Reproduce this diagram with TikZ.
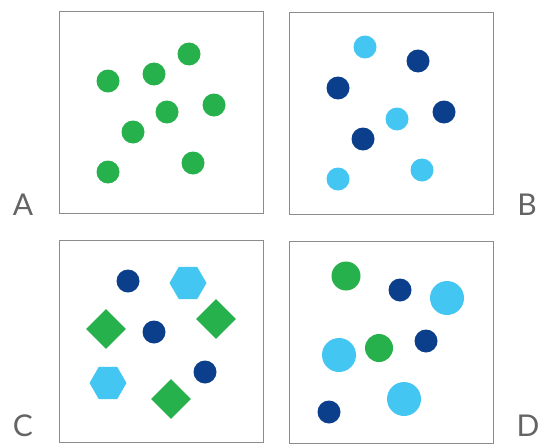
\documentclass[tikz,border=0pt]{standalone}
\usepackage{fontspec}
\newfontfamily\lblfont{Lato}
\usepackage{tikz}
\usetikzlibrary{shapes.geometric}
\definecolor{Dotgreen}{RGB}{38,177,76}
\definecolor{Dotlight}{RGB}{67,199,242}
\definecolor{Dotdark}{RGB}{11,63,139}
\definecolor{Framegray}{RGB}{140,140,140}
\definecolor{Lblgray}{RGB}{100,100,100}

\begin{document}
\begin{tikzpicture}[x=1pt, y=-1pt,
  panel/.style={rectangle, draw=Framegray, line width=0.9pt,
                minimum width=204pt, minimum height=202pt, inner sep=0pt},
  gdot/.style={circle, fill=Dotgreen, inner sep=0pt, minimum size=23pt},
  ldot/.style={circle, fill=Dotlight, inner sep=0pt, minimum size=23pt},
  ddot/.style={circle, fill=Dotdark, inner sep=0pt, minimum size=23pt},
  gdia/.style={diamond, fill=Dotgreen, inner sep=0pt, minimum size=40pt},
  lhex/.style={regular polygon, regular polygon sides=6, fill=Dotlight,
               inner sep=0pt, minimum size=37pt},
  panlbl/.style={font=\lblfont\fontsize{30}{30}\selectfont, text=Lblgray, inner sep=0pt}
]
\useasboundingbox (0,0) rectangle (543,444);

%% --- PANELS ---
\node[panel] (panA) at (161,112.5) {};
\node[panel] (panB) at (391,113) {};
\node[panel] (panC) at (161,341.5) {};
\node[panel] (panD) at (391,342) {};

%% --- LABELS ---
\node[panlbl] (lblA) at (23,205) {A};
\node[panlbl] (lblB) at (527,205) {B};
\node[panlbl] (lblC) at (23,426) {C};
\node[panlbl] (lblD) at (528,426) {D};

%% --- PANEL A: green dots only ---
\node[gdot] (a1) at (108,81) {};
\node[gdot] (a2) at (154,74) {};
\node[gdot] (a3) at (189,54) {};
\node[gdot] (a4) at (214,105) {};
\node[gdot] (a5) at (167,112) {};
\node[gdot] (a6) at (133,132) {};
\node[gdot] (a7) at (108,172) {};
\node[gdot] (a8) at (193,163) {};

%% --- PANEL B: light and dark blue dots ---
\node[ldot] (b1) at (365,47) {};
\node[ddot] (b2) at (418,61) {};
\node[ddot] (b3) at (338,88) {};
\node[ldot] (b4) at (397,119) {};
\node[ddot] (b5) at (444,112) {};
\node[ddot] (b6) at (363,139) {};
\node[ldot] (b7) at (338,179) {};
\node[ldot] (b8) at (422,170) {};

%% --- PANEL C: mixed shapes ---
\node[ddot] (c1) at (128,281) {};
\node[lhex] (c2) at (188,283) {};
\node[gdia] (c3) at (106,329) {};
\node[gdia] (c4) at (216,319) {};
\node[ddot] (c5) at (154,332) {};
\node[lhex] (c6) at (108,383) {};
\node[ddot] (c7) at (205,372) {};
\node[gdia] (c8) at (171,399) {};

%% --- PANEL D: mixed sizes ---
\node[gdot, minimum size=29pt] (d1) at (346,276) {};
\node[ddot] (d2) at (400,290) {};
\node[ldot, minimum size=34pt] (d3) at (447,298) {};
\node[ddot] (d4) at (426,341) {};
\node[gdot, minimum size=28pt] (d5) at (379,348) {};
\node[ldot, minimum size=34pt] (d6) at (339,355) {};
\node[ldot, minimum size=34pt] (d7) at (404,399) {};
\node[ddot] (d8) at (329,412) {};

\end{tikzpicture}
\end{document}
